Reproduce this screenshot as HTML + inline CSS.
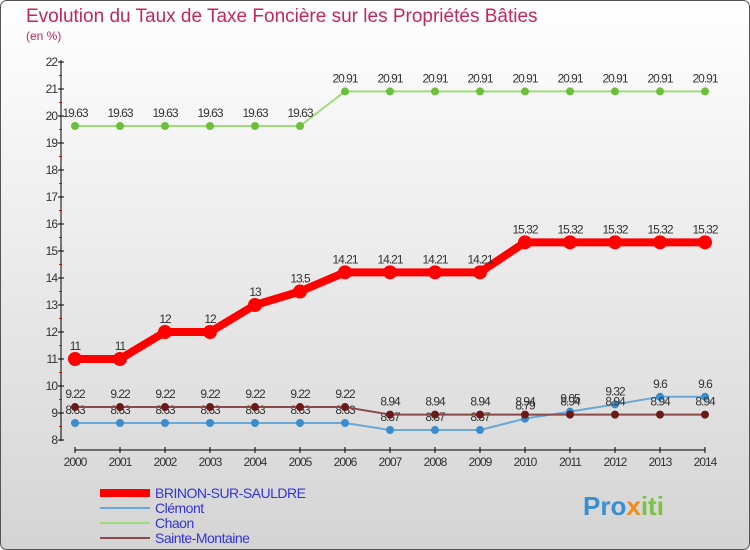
<!DOCTYPE html>
<html><head><meta charset="utf-8"><style>
body{margin:0;}
#wrap{width:750px;height:550px;position:relative;overflow:hidden;font-family:"Liberation Sans",sans-serif;}
</style></head><body>
<div id="wrap">
<svg id="chart" width="750" height="550" xmlns="http://www.w3.org/2000/svg">
<defs><linearGradient id="bg" x1="0" y1="0" x2="0" y2="1"><stop offset="0" stop-color="#ffffff"/><stop offset="1" stop-color="#d4d4d4"/></linearGradient></defs>
<rect x="0.5" y="0.5" width="749" height="549" rx="6" fill="url(#bg)" stroke="#555"/>
<text x="26" y="22" font-size="19" fill="#c8245e">Evolution du Taux de Taxe Foncière sur les Propriétés Bâties</text>
<text x="26" y="40" font-size="12" fill="#c8245e">(en %)</text>
<g id="axes"></g><g id="series"></g><g id="legend"></g>
<text x="583" y="515" font-size="26" font-weight="bold" fill="#3a8fd0">Pro<tspan fill="#f08c1e">x</tspan><tspan fill="#7cc242">iti</tspan></text>
</svg>
</div>
<script>
const years=[2000,2001,2002,2003,2004,2005,2006,2007,2008,2009,2010,2011,2012,2013,2014];
const yTicks=[8,9,10,11,12,13,14,15,16,17,18,19,20,21,22];
const brinon=[11,11,12,12,13,13.5,14.21,14.21,14.21,14.21,15.32,15.32,15.32,15.32,15.32];
const clement=[8.63,8.63,8.63,8.63,8.63,8.63,8.63,8.37,8.37,8.37,8.79,9.05,9.32,9.6,9.6];
const chaon=[19.63,19.63,19.63,19.63,19.63,19.63,20.91,20.91,20.91,20.91,20.91,20.91,20.91,20.91,20.91];
const sainte=[9.22,9.22,9.22,9.22,9.22,9.22,9.22,8.94,8.94,8.94,8.94,8.94,8.94,8.94,8.94];
const NS="http://www.w3.org/2000/svg";
const xS=i=>75+i*45;
const yS=v=>440-(v-8)*27;
function mk(t,a,p){const e=document.createElementNS(NS,t);for(const k in a)e.setAttribute(k,a[k]);p.appendChild(e);return e;}
const ax=document.getElementById('axes');
let e=mk('line',{x1:61,y1:60,x2:61,y2:441,stroke:'#000'},ax);


yTicks.forEach(v=>{mk('line',{x1:58,x2:64,y1:yS(v),y2:yS(v),stroke:'#000'},ax);
 if(v<22)mk('line',{x1:59,x2:62,y1:yS(v+0.5),y2:yS(v+0.5),stroke:'#e00'},ax);
 const t=mk('text',{x:57,y:yS(v)+4,'font-size':12,'text-anchor':'end',fill:'#333','letter-spacing':'-1'},ax);t.textContent=v;
 
 });
e=mk('line',{x1:75,y1:450,x2:705,y2:450,stroke:'#000'},ax);


years.forEach((y,i)=>{mk('line',{x1:xS(i),x2:xS(i),y1:447,y2:453,stroke:'#000'},ax);
 const t=mk('text',{x:xS(i),y:466,'font-size':12,'text-anchor':'middle',fill:'#333','letter-spacing':'-1'},ax);t.textContent=y;
 
 });
const sg=document.getElementById('series');
function draw(vals,col,w,r,name,dot){
 const g=mk('g',{},sg);
 
 
 mk('polyline',{points:vals.map((v,i)=>xS(i)+','+yS(v)).join(' '),fill:'none',stroke:col,'stroke-width':w,'stroke-linejoin':'round'},g);
 vals.forEach((v,i)=>{const c=mk('circle',{cx:xS(i),cy:yS(v),r:r,fill:dot||col},g);
  
  
  const t=mk('text',{x:xS(i),y:yS(v)-9,'font-size':12,'text-anchor':'middle',fill:'#333','letter-spacing':'-1'},g);t.textContent=v;
  
  });
}
draw(chaon,'#9edc7a',2,4,'series-chaon','#6cbf3a');
draw(clement,'#6aa8d8',2,4,'series-clement','#3a8ccc');
draw(sainte,'#8a4a4a',2,4,'series-sainte-montaine','#6a1a1a');
draw(brinon,'#ff0000',8,7,'series-brinon');
const lg=document.getElementById('legend');
const items=[['BRINON-SUR-SAULDRE','#ff0000',8],['Clémont','#6aa8d8',2],['Chaon','#9edc7a',2],['Sainte-Montaine','#8a4a4a',2]];
items.forEach((it,i)=>{const y=493+i*15;
 const g=mk('g',{},lg);
 
 
 mk('line',{x1:100,x2:150,y1:y,y2:y,stroke:it[1],'stroke-width':it[2]},g);
 const t=mk('text',{x:155,y:y+5,'font-size':14,fill:'#3333dd','letter-spacing':'-0.5'},g);t.textContent=it[0];});
</script>
</body></html>
